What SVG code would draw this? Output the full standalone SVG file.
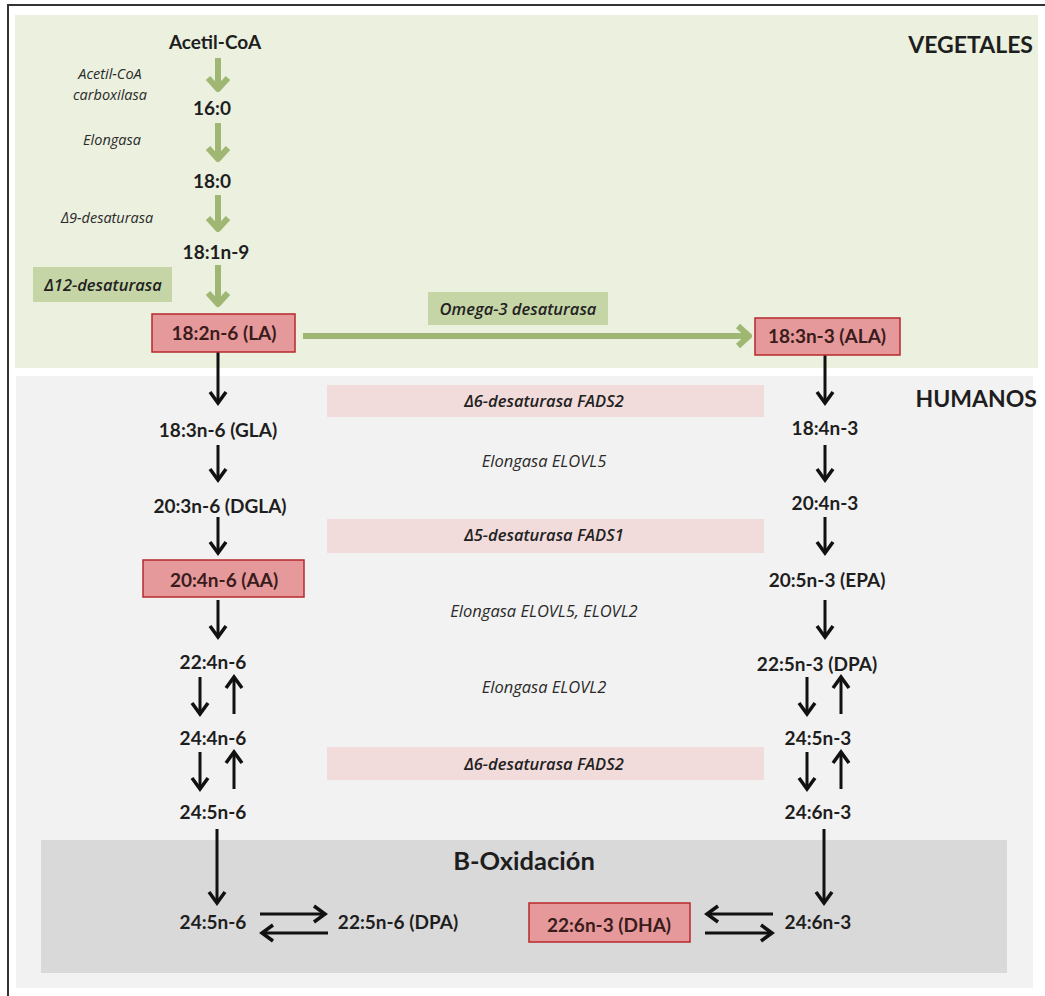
<svg xmlns="http://www.w3.org/2000/svg" width="1045" height="996" viewBox="0 0 1045 996">
  <defs>
    <style>
      .lbl { font-family: Lato, "Liberation Sans", sans-serif; font-weight: bold; font-size: 19px; fill: #1e1e1e; text-anchor: middle; }
      .key { font-family: Lato, "Liberation Sans", sans-serif; font-weight: bold; font-size: 19px; fill: #3a1c1c; text-anchor: middle; }
      .zone { font-family: Lato, "Liberation Sans", sans-serif; font-weight: bold; font-size: 23px; fill: #1e1e1e; text-anchor: end; }
      .enz { font-family: "Open Sans", "Liberation Sans", sans-serif; font-style: italic; font-size: 14.5px; fill: #2a2a2a; text-anchor: middle; }
      .enzm { font-family: "Open Sans", "Liberation Sans", sans-serif; font-style: italic; font-size: 16.5px; fill: #2a2a2a; text-anchor: middle; }
      .enzb { font-family: "Open Sans", "Liberation Sans", sans-serif; font-style: italic; font-weight: 600; font-size: 16.5px; fill: #222; text-anchor: middle; }
      .redbox { fill: #e6999a; stroke: #b8282b; stroke-width: 1.5; }
      .greenbox { fill: #c6d5a6; }
      .pinkbar { fill: #f2dcdb; }
      .blk { fill: none; stroke: #111; stroke-width: 3; }
      .grn { fill: none; stroke: #9fb773; stroke-width: 6; }
    </style>
    <marker id="headBlack" markerUnits="userSpaceOnUse" markerWidth="30" markerHeight="30" refX="0" refY="0" orient="auto" overflow="visible">
      <path d="M-11,-8 L0,0 L-11,8" fill="none" stroke="#111" stroke-width="3.5" stroke-linejoin="miter"/>
    </marker>
    <marker id="headGreen" markerUnits="userSpaceOnUse" markerWidth="30" markerHeight="30" refX="0" refY="0" orient="auto" overflow="visible">
      <path d="M-12,-10 L-1,0 L-12,10" fill="none" stroke="#9fb773" stroke-width="6" stroke-linejoin="round"/>
    </marker>
  </defs>

  <!-- background and panels -->
  <rect x="0" y="0" width="1045" height="996" fill="#ffffff"/>
  <path d="M8,996 V5 H1045" fill="none" stroke="#333" stroke-width="2"/>
  <rect id="panel-vegetales" x="15" y="15" width="1023" height="353" fill="#ebf0df"/>
  <rect id="panel-humanos" x="16" y="376" width="1017" height="612" fill="#f2f2f2"/>
  <rect id="panel-boxidacion" x="41" y="840" width="966" height="133" fill="#d9d9d9"/>

  <text class="zone" x="1033" y="53">VEGETALES</text>
  <text class="zone" x="1037" y="407">HUMANOS</text>
  <text class="lbl" x="524" y="870" style="font-size:25.5px">B-Oxidación</text>

  <!-- enzyme bands -->
  <g id="enzymes">
    <text class="enz" x="110" y="79">Acetil-CoA</text>
    <text class="enz" x="110" y="100">carboxilasa</text>
    <text class="enz" x="112" y="145">Elongasa</text>
    <text class="enz" x="107" y="223">Δ9-desaturasa</text>
    <g id="enz-d12">
      <rect class="greenbox" x="33" y="267" width="139" height="35"/>
      <text class="enzb" x="103" y="291">Δ12-desaturasa</text>
    </g>
    <g id="enz-omega3">
      <rect class="greenbox" x="428" y="292" width="180" height="33"/>
      <text class="enzb" x="518" y="315">Omega-3 desaturasa</text>
    </g>
    <g id="enz-d6a">
      <rect class="pinkbar" x="327" y="385" width="437" height="32"/>
      <text class="enzb" x="544" y="407">Δ6-desaturasa FADS2</text>
    </g>
    <text class="enzm" x="544" y="467">Elongasa ELOVL5</text>
    <g id="enz-d5">
      <rect class="pinkbar" x="327" y="519" width="437" height="34"/>
      <text class="enzb" x="544" y="541">Δ5-desaturasa FADS1</text>
    </g>
    <text class="enzm" x="544" y="617">Elongasa ELOVL5, ELOVL2</text>
    <text class="enzm" x="544" y="693">Elongasa ELOVL2</text>
    <g id="enz-d6b">
      <rect class="pinkbar" x="327" y="747" width="437" height="33"/>
      <text class="enzb" x="544" y="770">Δ6-desaturasa FADS2</text>
    </g>
  </g>

  <!-- connectors -->
  <g id="connectors">
    <!-- plant pathway -->
    <path class="grn" d="M218,58 V90" marker-end="url(#headGreen)"/>
    <path class="grn" d="M218,123 V160" marker-end="url(#headGreen)"/>
    <path class="grn" d="M218,195 V230" marker-end="url(#headGreen)"/>
    <path class="grn" d="M218,265 V305" marker-end="url(#headGreen)"/>
    <path class="grn" d="M303,336 H750" marker-end="url(#headGreen)"/>

    <!-- omega-6 series -->
    <path class="blk" d="M218,352 V403" marker-end="url(#headBlack)"/>
    <path class="blk" d="M218,445 V480" marker-end="url(#headBlack)"/>
    <path class="blk" d="M218,517 V553" marker-end="url(#headBlack)"/>
    <path class="blk" d="M218,600 V637" marker-end="url(#headBlack)"/>
    <path class="blk" d="M200,677 V714" marker-end="url(#headBlack)"/>
    <path class="blk" d="M234,714 V677" marker-end="url(#headBlack)"/>
    <path class="blk" d="M200,752 V789" marker-end="url(#headBlack)"/>
    <path class="blk" d="M234,789 V752" marker-end="url(#headBlack)"/>
    <path class="blk" d="M217,829 V903" marker-end="url(#headBlack)"/>
    <path class="blk" d="M260,914 H325" marker-end="url(#headBlack)"/>
    <path class="blk" d="M328,933 H262" marker-end="url(#headBlack)"/>

    <!-- omega-3 series -->
    <path class="blk" d="M825,355 V403" marker-end="url(#headBlack)"/>
    <path class="blk" d="M825,445 V480" marker-end="url(#headBlack)"/>
    <path class="blk" d="M825,517 V553" marker-end="url(#headBlack)"/>
    <path class="blk" d="M825,600 V637" marker-end="url(#headBlack)"/>
    <path class="blk" d="M807,677 V714" marker-end="url(#headBlack)"/>
    <path class="blk" d="M841,714 V677" marker-end="url(#headBlack)"/>
    <path class="blk" d="M807,752 V789" marker-end="url(#headBlack)"/>
    <path class="blk" d="M841,789 V752" marker-end="url(#headBlack)"/>
    <path class="blk" d="M824,829 V903" marker-end="url(#headBlack)"/>
    <path class="blk" d="M773,914 H707" marker-end="url(#headBlack)"/>
    <path class="blk" d="M705,933 H772" marker-end="url(#headBlack)"/>
  </g>

  <!-- plant nodes -->
  <g id="n-acetilcoa"><text class="lbl" x="215" y="49">Acetil-CoA</text></g>
  <g id="n-16-0"><text class="lbl" x="212" y="115">16:0</text></g>
  <g id="n-18-0"><text class="lbl" x="212" y="188">18:0</text></g>
  <g id="n-18-1n9"><text class="lbl" x="216" y="259">18:1n-9</text></g>
  <g id="n-la">
    <rect class="redbox" x="152" y="314" width="143" height="38"/>
    <text class="key" x="224" y="340">18:2n-6 (LA)</text>
  </g>
  <g id="n-ala">
    <rect class="redbox" x="755" y="318" width="145" height="37"/>
    <text class="key" x="827" y="343">18:3n-3 (ALA)</text>
  </g>

  <!-- omega-6 nodes -->
  <g id="n-gla"><text class="lbl" x="218" y="437">18:3n-6 (GLA)</text></g>
  <g id="n-dgla"><text class="lbl" x="220" y="513">20:3n-6 (DGLA)</text></g>
  <g id="n-aa">
    <rect class="redbox" x="143" y="560" width="161" height="37"/>
    <text class="key" x="224" y="587">20:4n-6 (AA)</text>
  </g>
  <g id="n-22-4n6"><text class="lbl" x="213" y="669">22:4n-6</text></g>
  <g id="n-24-4n6"><text class="lbl" x="213" y="745">24:4n-6</text></g>
  <g id="n-24-5n6"><text class="lbl" x="213" y="819">24:5n-6</text></g>
  <g id="n-24-5n6-b"><text class="lbl" x="213" y="929">24:5n-6</text></g>
  <g id="n-dpa-n6"><text class="lbl" x="398" y="929">22:5n-6 (DPA)</text></g>

  <!-- omega-3 nodes -->
  <g id="n-18-4n3"><text class="lbl" x="825" y="435">18:4n-3</text></g>
  <g id="n-20-4n3"><text class="lbl" x="825" y="510">20:4n-3</text></g>
  <g id="n-epa"><text class="lbl" x="827" y="587">20:5n-3 (EPA)</text></g>
  <g id="n-dpa-n3"><text class="lbl" x="817" y="671">22:5n-3 (DPA)</text></g>
  <g id="n-24-5n3"><text class="lbl" x="818" y="745">24:5n-3</text></g>
  <g id="n-24-6n3"><text class="lbl" x="818" y="819">24:6n-3</text></g>
  <g id="n-24-6n3-b"><text class="lbl" x="818" y="929">24:6n-3</text></g>
  <g id="n-dha">
    <rect class="redbox" x="529" y="903" width="161" height="39"/>
    <text class="key" x="609" y="932">22:6n-3 (DHA)</text>
  </g>
</svg>
